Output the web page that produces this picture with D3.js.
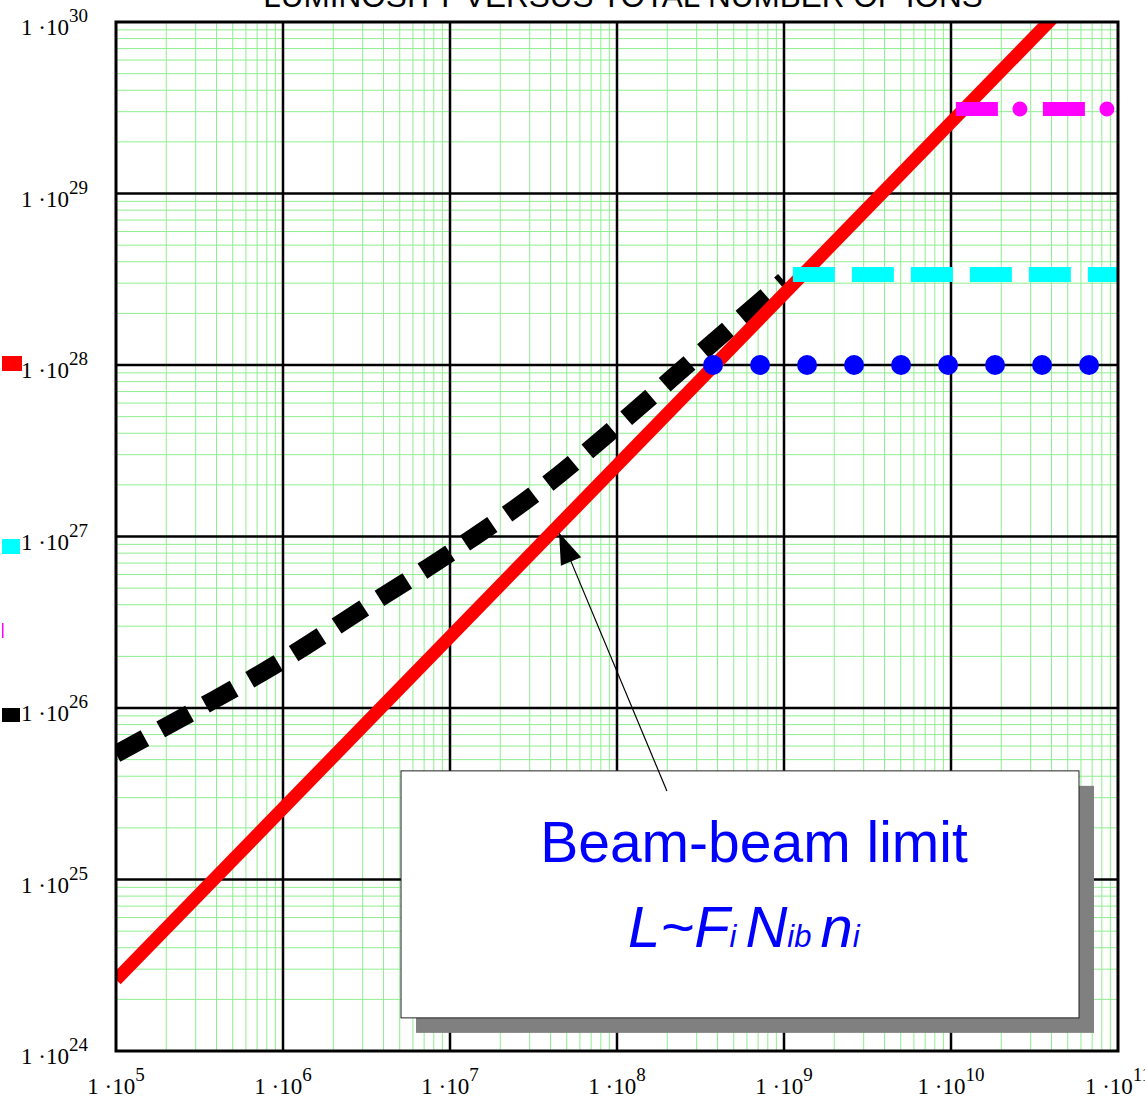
<!DOCTYPE html>
<html>
<head>
<meta charset="utf-8">
<script src="https://cdn.jsdelivr.net/npm/d3@7"></script>
<style>
  html, body { margin: 0; padding: 0; background: #fff; }
  svg { display: block; }
</style>
</head>
<body>
<svg id="chart" width="1145" height="1100"></svg>
<script>
// Luminosity versus total number of ions, log-log plot

// decade exponents used for ticks / labels
const xExponents = [5, 6, 7, 8, 9, 10, 11];
const yExponents = [24, 25, 26, 27, 28, 29, 30];

// beam-beam limit  L ~ Fi * Nib * ni
const beamN = [1e5, 1e11];
const beamL = [2.6e24, 2.6e30];

// black dashed curve
const blackN = [1e5, 3.16e5, 1e6, 3.16e6, 1e7, 3.16e7, 1e8, 3.16e8, 1e9];
const blackL = [5.4e25, 1.0e26, 1.9e26, 3.9e26, 8.0e26, 1.75e27, 4.4e27, 1.17e28, 3.1e28];

// flat plateaus
const cyanN = [1.13e9, 1e11];
const cyanL = [3.37e28, 3.37e28];
const blueN = [3.76e8, 1e11];
const blueL = [1e28, 1e28];
const magentaN = [1.07e10, 1e11];
const magentaL = [3.11e29, 3.11e29];

// annotation anchors (data coordinates)
const noteBoxN = [5.09e6, 5.84e10];
const noteBoxL = [4.30e25, 1.56e24];
const arrowN = [1.99e8, 4.5e7];
const arrowL = [3.28e25, 1.05e27];

const svg = d3.select("#chart");
const plot = { left: 116, right: 1118, top: 22, bottom: 1051 };

const x = d3.scaleLog().domain([1e5, 1e11]).range([plot.left, plot.right]);
const y = d3.scaleLog().domain([1e24, 1e30]).range([plot.bottom, plot.top]);

svg.append("defs").append("clipPath").attr("id", "plotClip")
  .append("rect")
  .attr("x", plot.left).attr("y", plot.top)
  .attr("width", plot.right - plot.left).attr("height", plot.bottom - plot.top);

// title (partly above the page edge)
svg.append("text")
  .attr("x", 623).attr("y", 7)
  .attr("text-anchor", "middle")
  .attr("font-family", "Liberation Sans, Arial, sans-serif")
  .attr("font-size", 31.5)
  .attr("fill", "#000")
  .text("LUMINOSITY VERSUS TOTAL NUMBER OF IONS");

// minor grid
const minorX = [], minorY = [];
xExponents.slice(0, -1).forEach(e => { for (let k = 2; k <= 9; k++) minorX.push(k * Math.pow(10, e)); });
yExponents.slice(0, -1).forEach(e => { for (let k = 2; k <= 9; k++) minorY.push(k * Math.pow(10, e)); });

const grid = svg.append("g");
grid.selectAll(".mx").data(minorX).join("line")
  .attr("x1", d => x(d)).attr("x2", d => x(d))
  .attr("y1", plot.top).attr("y2", plot.bottom)
  .attr("stroke", "#8fee8f").attr("stroke-width", 1);
grid.selectAll(".my").data(minorY).join("line")
  .attr("y1", d => y(d)).attr("y2", d => y(d))
  .attr("x1", plot.left).attr("x2", plot.right)
  .attr("stroke", "#8fee8f").attr("stroke-width", 1);

// major grid
grid.selectAll(".Mx").data(xExponents.slice(1, -1)).join("line")
  .attr("x1", e => x(Math.pow(10, e))).attr("x2", e => x(Math.pow(10, e)))
  .attr("y1", plot.top).attr("y2", plot.bottom)
  .attr("stroke", "#000").attr("stroke-width", 2.5);
grid.selectAll(".My").data(yExponents.slice(1, -1)).join("line")
  .attr("y1", e => y(Math.pow(10, e))).attr("y2", e => y(Math.pow(10, e)))
  .attr("x1", plot.left).attr("x2", plot.right)
  .attr("stroke", "#000").attr("stroke-width", 2.5);

// series
const series = svg.append("g").attr("clip-path", "url(#plotClip)");
const toPts = (ns, ls) => ns.map((n, i) => [x(n), y(ls[i])]);
const straight = d3.line();
const smooth = d3.line().curve(d3.curveMonotoneX);

series.append("path")
  .attr("d", smooth(toPts(blackN, blackL)))
  .attr("fill", "none").attr("stroke", "#000")
  .attr("stroke-width", 18).attr("stroke-linejoin", "bevel")
  .attr("stroke-dasharray", "33,18");

series.append("path")
  .attr("d", straight(toPts(beamN, beamL)))
  .attr("fill", "none").attr("stroke", "#ff0000").attr("stroke-width", 13);

series.append("path")
  .attr("d", straight(toPts(blueN, blueL)))
  .attr("fill", "none").attr("stroke", "#0000ff")
  .attr("stroke-width", 20).attr("stroke-linecap", "round")
  .attr("stroke-dasharray", "0,47");

series.append("path")
  .attr("d", straight(toPts(cyanN, cyanL)))
  .attr("fill", "none").attr("stroke", "#00ffff")
  .attr("stroke-width", 15).attr("stroke-dasharray", "42,17");

series.append("path")
  .attr("d", straight(toPts(magentaN, magentaL)))
  .attr("fill", "none").attr("stroke", "#ff00ff")
  .attr("stroke-width", 14).attr("stroke-dasharray", "42,45");
series.append("path")
  .attr("d", straight(toPts(magentaN, magentaL)))
  .attr("fill", "none").attr("stroke", "#ff00ff")
  .attr("stroke-width", 15).attr("stroke-linecap", "round")
  .attr("stroke-dasharray", "0,87").attr("stroke-dashoffset", -64);

// frame
svg.append("rect")
  .attr("x", plot.left).attr("y", plot.top)
  .attr("width", plot.right - plot.left).attr("height", plot.bottom - plot.top)
  .attr("fill", "none").attr("stroke", "#000").attr("stroke-width", 3);

// tick labels  1·10^n
const serif = "Liberation Serif, Times New Roman, serif";
function powLabel(sel, e) {
  sel.append("tspan").attr("font-size", 23).text("1 \u00b710");
  sel.append("tspan").attr("font-size", 19).attr("dy", -13).text(e);
}
svg.append("g").selectAll("text").data(yExponents).join("text")
  .attr("x", 88).attr("y", e => y(Math.pow(10, e)) + 13)
  .attr("text-anchor", "end").attr("font-family", serif).attr("fill", "#000")
  .each(function (e) { powLabel(d3.select(this), e); });
svg.append("g").selectAll("text").data(xExponents).join("text")
  .attr("x", e => x(Math.pow(10, e))).attr("y", 1094)
  .attr("text-anchor", "middle").attr("font-family", serif).attr("fill", "#000")
  .each(function (e) { powLabel(d3.select(this), e); });

// legend swatches at the left edge
const swatches = [
  { color: "#ff0000", top: 356, w: 20, h: 15 },
  { color: "#00ffff", top: 539, w: 18, h: 15 },
  { color: "#ff00ff", top: 623, w: 1.5, h: 15 },
  { color: "#000000", top: 708, w: 18, h: 14 }
];
svg.append("g").selectAll("rect").data(swatches).join("rect")
  .attr("x", 2).attr("y", d => d.top).attr("width", d => d.w).attr("height", d => d.h)
  .attr("fill", d => d.color);

// annotation box with drop shadow
const bx0 = x(noteBoxN[0]), bx1 = x(noteBoxN[1]);
const by0 = y(noteBoxL[0]), by1 = y(noteBoxL[1]);
const note = svg.append("g");
note.append("rect")
  .attr("x", bx0 + 15).attr("y", by0 + 15)
  .attr("width", bx1 - bx0).attr("height", by1 - by0)
  .attr("fill", "#808080");
note.append("rect")
  .attr("x", bx0).attr("y", by0)
  .attr("width", bx1 - bx0).attr("height", by1 - by0)
  .attr("fill", "#fff").attr("stroke", "#222").attr("stroke-width", 1);

note.append("text")
  .attr("x", bx0 + 353).attr("y", by0 + 91)
  .attr("text-anchor", "middle")
  .attr("font-family", "Liberation Sans, Arial, sans-serif")
  .attr("font-size", 57).attr("fill", "#0000ff")
  .text("Beam-beam limit");

const formula = note.append("text")
  .attr("x", bx0 + 227).attr("y", by0 + 176)
  .attr("font-family", "Liberation Sans, Arial, sans-serif")
  .attr("font-style", "italic").attr("fill", "#0000ff");
[
  ["L~F", 58, 0], ["i", 31, 0], ["N", 58, 9], ["ib", 31, 0], ["n", 58, 9], ["i", 31, 0]
].forEach(([t, fs, dx]) => formula.append("tspan").attr("font-size", fs).attr("dx", dx).text(t));

// arrow
const [tx, ty] = [x(arrowN[0]), y(arrowL[0])];
const [hx, hy] = [x(arrowN[1]), y(arrowL[1])];
note.append("line")
  .attr("x1", tx).attr("y1", ty).attr("x2", hx).attr("y2", hy)
  .attr("stroke", "#000").attr("stroke-width", 1.2);
const ang = Math.atan2(hy - ty, hx - tx);
const len = 31, half = 11;
const bxm = hx - len * Math.cos(ang), bym = hy - len * Math.sin(ang);
note.append("polygon")
  .attr("points", [
    [hx, hy],
    [bxm + half * Math.sin(ang), bym - half * Math.cos(ang)],
    [bxm - half * Math.sin(ang), bym + half * Math.cos(ang)]
  ].map(p => p.join(",")).join(" "))
  .attr("fill", "#000");
</script>
</body>
</html>
